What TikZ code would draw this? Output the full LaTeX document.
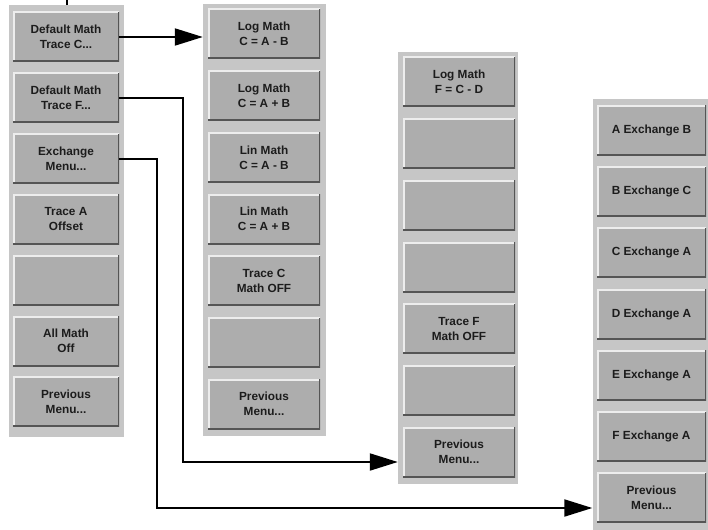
\documentclass[tikz,border=0pt]{standalone}
\usepackage{fontspec}
\setmainfont{Liberation Sans}
\usetikzlibrary{arrows.meta}
\definecolor{panelgray}{HTML}{C6C6C6}
\definecolor{btngray}{HTML}{ADADAD}
\definecolor{bevlight}{HTML}{EDEDED}
\definecolor{bevdark}{HTML}{555555}
\definecolor{txt}{HTML}{1C1C1C}
\begin{document}
\begin{tikzpicture}[x=1pt,y=-1pt,
  panel/.style={rectangle, fill=panelgray, draw=none, minimum width=#1, minimum height=432pt, inner sep=0pt},
  btn/.style={rectangle, fill=btngray, draw=none, minimum width=#1, minimum height=50pt, inner sep=0pt,
    align=center, text=txt, font=\bfseries\fontsize{11.8}{15}\selectfont,
    path picture={
      \draw[bevlight, line width=3pt] (path picture bounding box.south west) -- (path picture bounding box.north west) -- (path picture bounding box.north east);
      \draw[bevdark, line width=3pt] (path picture bounding box.north east) -- (path picture bounding box.south east) -- (path picture bounding box.south west);
    }},
  link/.style={draw=black, line width=2pt, -{Triangle[length=28pt,width=17pt]}},
  stub/.style={draw=black, line width=2pt}]
\useasboundingbox (0,0) rectangle (708,529);
\fill[white] (0,0) rectangle (708,529);

% panels
\node[panel=115pt] (P1) at (66.5,221) {};
\node[panel=123pt] (P2) at (264.5,220) {};
\node[panel=120pt] (P3) at (458,268) {};
\node[panel=118pt] (P4) at (651.5,315) {};

% panel 1 buttons
\foreach \i/\t in {0/{Default Math\\Trace C...},1/{Default Math\\Trace F...},2/{Exchange\\Menu...},3/{Trace A\\Offset},4/{},5/{All Math\\Off},6/{Previous\\Menu...}}{
  \pgfmathtruncatemacro\n{\i+1}
  \node[btn=106pt] (a\n) at (66,37+60.8*\i) {\t};
}
% panel 2 buttons
\foreach \i/\t in {0/{Log Math\\C = A - B},1/{Log Math\\C = A + B},2/{Lin Math\\C = A - B},3/{Lin Math\\C = A + B},4/{Trace C\\Math OFF},5/{},6/{Previous\\Menu...}}{
  \pgfmathtruncatemacro\n{\i+1}
  \node[btn=112pt] (b\n) at (264,34+61.7*\i) {\t};
}
% panel 3 buttons
\foreach \i/\t in {0/{Log Math\\F = C - D},1/{},2/{},3/{},4/{Trace F\\Math OFF},5/{},6/{Previous\\Menu...}}{
  \pgfmathtruncatemacro\n{\i+1}
  \node[btn=112pt] (c\n) at (459,82+61.7*\i) {\t};
}
% panel 4 buttons
\foreach \i/\t in {0/{A Exchange B},1/{B Exchange C},2/{C Exchange A},3/{D Exchange A},4/{E Exchange A},5/{F Exchange A},6/{Previous\\Menu...}}{
  \pgfmathtruncatemacro\n{\i+1}
  \node[btn=109pt] (d\n) at (651.5,130.5+61.2*\i) {\t};
}

% connectors
\coordinate (top) at (67,0);
\draw[stub] (top) -- (top |- P1.north);

\draw[link] (a1.east) -- (a1.east -| P2.west);

\coordinate (k2) at (183,462);
\draw[link] (a2.east) -| (k2) -- (k2 -| P3.west);

\coordinate (k3) at (157,508);
\draw[link] (a3.east) -| (k3) -- (k3 -| P4.west);
\end{tikzpicture}
\end{document}
